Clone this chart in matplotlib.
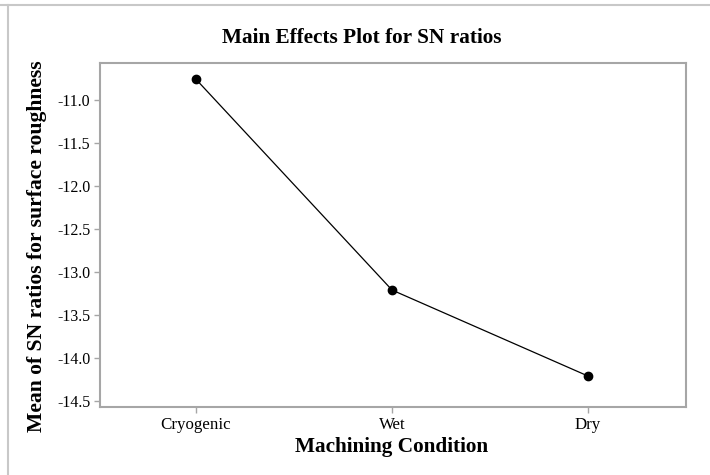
import matplotlib
matplotlib.use("Agg")
import matplotlib.pyplot as plt
from matplotlib.lines import Line2D

conditions = ["Cryogenic", "Wet", "Dry"]
sn_means = [-10.76, -13.21, -14.21]
y_ticks = [-11.0, -11.5, -12.0, -12.5, -13.0, -13.5, -14.0, -14.5]

plt.rcParams['font.family'] = ['Liberation Serif', 'DejaVu Serif']

fig = plt.figure(figsize=(7.1, 4.75), dpi=100)
ax = fig.add_axes([100 / 710, 1 - 407 / 475, 586 / 710, 344 / 475])

x = list(range(len(conditions)))
ax.plot(x, sn_means, color='black', linewidth=0.9, marker='o', markersize=6,
        markerfacecolor='black', markeredgecolor='black')

ax.set_xlim(-0.49, 2.5)
ax.set_ylim(-14.57, -10.57)
ax.set_xticks(x)
ax.set_xticklabels(conditions)
ax.set_yticks(y_ticks)
ax.set_yticklabels([f"{v:.1f}" for v in y_ticks])

for sp in ax.spines.values():
    sp.set_color('#a6a6a6')
    sp.set_linewidth(1.5)
ax.tick_params(axis='both', direction='out', length=4, width=1, color='#a6a6a6',
               labelsize=11.5, pad=3)
ax.tick_params(axis='x', labelsize=12.2)

fig.text(362 / 710, 1 - 38 / 475, "Main Effects Plot for SN ratios",
         ha='center', va='center', fontsize=15.3, fontweight='bold')
fig.text(392 / 710, 1 - 447 / 475, "Machining Condition",
         ha='center', va='center', fontsize=15.3, fontweight='bold')
fig.text(37 / 710, 1 - 246 / 475, "Mean of SN ratios for surface roughness",
         ha='center', va='center', rotation=90, fontsize=15.6, fontweight='bold')

# light frame lines along top and left of the picture
fig.add_artist(Line2D([0, 1], [1 - 4.5 / 475] * 2, color='#c8c8c8', linewidth=1.5,
                      transform=fig.transFigure))
fig.add_artist(Line2D([7.5 / 710] * 2, [0, 1 - 4.5 / 475], color='#c8c8c8',
                      linewidth=1.5, transform=fig.transFigure))

fig.savefig("out.png", dpi=100)
